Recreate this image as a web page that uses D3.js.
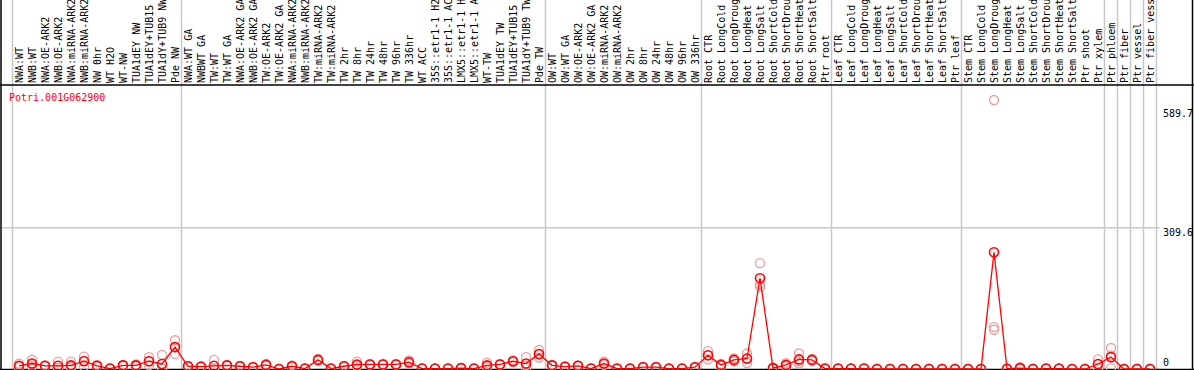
<!DOCTYPE html>
<html>
<head>
<meta charset="utf-8">
<script src="https://cdn.jsdelivr.net/npm/d3@7"></script>
<style>
  body { margin: 0; background: #fff; }
  svg { display: block; }
  text { font-family: "DejaVu Sans Mono", monospace; font-size: 10px; }
</style>
</head>
<body>
<div id="chart"></div>
<script>
const gene = 'Potri.001G062900';

const samples = [
  'NWA:WT', 'NWB:WT', 'NWA:OE-ARK2', 'NWB:OE-ARK2', 'NWA:miRNA-ARK2', 'NWB:miRNA-ARK2',
  'NW 0hr', 'WT H2O', 'WT-NW', 'TUA1dEY NW', 'TUA1dEY+TUB15 NW', 'TUA1dY+TUB9 NW', 'Pde NW',
  'NWA:WT GA', 'NWBWT GA', 'TW:WT', 'TW:WT GA', 'NWA:OE-ARK2 GA', 'NWB:OE-ARK2 GA',
  'TW:OE-ARK2', 'TW:OE-ARK2 GA', 'NWA:miRNA-ARK2 GA', 'NWB:miRNA-ARK2 GA', 'TW:miRNA-ARK2',
  'TW:miRNA-ARK2', 'TW 2hr', 'TW 8hr', 'TW 24hr', 'TW 48hr', 'TW 96hr', 'TW 336hr', 'WT ACC',
  '35S::etr1-1 H2O', '35S::etr1-1 ACC', 'LMX5::etr1-1 H2O', 'LMX5::etr1-1 ACC', 'WT-TW',
  'TUA1dEY TW', 'TUA1dEY+TUB15 TW', 'TUA1dY+TUB9 TW', 'Pde TW',
  'OW:WT', 'OW:WT GA', 'OW:OE-ARK2', 'OW:OE-ARK2 GA', 'OW:miRNA-ARK2', 'OW:miRNA-ARK2',
  'OW 2hr', 'OW 8hr', 'OW 24hr', 'OW 48hr', 'OW 96hr', 'OW 336hr',
  'Root CTR', 'Root LongCold', 'Root LongDrought', 'Root LongHeat', 'Root LongSalt',
  'Root ShortCold', 'Root ShortDrought', 'Root ShortHeat', 'Root ShortSalt', 'Ptr root',
  'Leaf CTR', 'Leaf LongCold', 'Leaf LongDrought', 'Leaf LongHeat', 'Leaf LongSalt',
  'Leaf ShortCold', 'Leaf ShortDrought', 'Leaf ShortHeat', 'Leaf ShortSalt', 'Ptr leaf',
  'Stem CTR', 'Stem LongCold', 'Stem LongDrought', 'Stem LongHeat', 'Stem LongSalt',
  'Stem ShortCold', 'Stem ShortDrought', 'Stem ShortHeat', 'Stem ShortSalt', 'Ptr shoot',
  'Ptr xylem', 'Ptr phloem', 'Ptr fiber', 'Ptr vessel', 'Ptr fiber vessel'
];

// mean expression per sample
const means = [
  7, 12, 7, 7, 8, 17, 7, 1, 8, 8, 17, 11, 48,
  6, 5, 7, 8, 6, 4, 9, 0, 6, 1, 20, 1, 6, 10, 10, 10, 10, 15, 1, 1, 1, 2, 1, 8, 10, 17, 12, 33,
  8, 5, 7, 1, 12, 1, 1, 4, 4, 1, 1, 4,
  30, 9, 20, 23, 199, 2, 9, 21, 20, 1,
  1, 1, 1, 0, 0, 0, 0, 0, 0, 0,
  0, 0, 256, 0.5, 2, 0, 1, 1, 0, 0, 11,
  26, 0, 0, 0
];

// replicate values
const rep1 = [
  12, 20, 8, 16, 16, 27, 9, 1, 9, 10, 26, 31, 63,
  7, 6, 20, 9, 7, 5, 11, 0, 8, 1, 22, 1, 7, 16, 11, 11, 11, 19, 1, 1, 1, 2, 1, 14, 11, 19, 26, 42,
  9, 6, 8, 1, 16, 1, 1, 5, 5, 1, 1, 5,
  39, 11, 23, 34, 232, 3, 13, 34, 22, 1,
  1, 1, 1, 0, 0, 0, 0, 0, 0, 0,
  0, 0, 589.7, 1, 4, 0, 1, 1, 0, 0, 21,
  46, 0, 0, 0
];
const rep2 = [
  5, 10, 7, 3, 5, 18, 7, 1, 8, 8, 17, 1, 48,
  6, 5, 1, 8, 6, 4, 9, 0, 6, 1, 20, 1, 6, 8, 10, 10, 10, 14, 1, 1, 1, 2, 1, 6, 10, 17, 8, 32,
  8, 5, 7, 1, 11, 1, 1, 4, 4, 1, 1, 4,
  30, 9, 20, 22, 186, 2, 8, 17, 20, 1,
  1, 1, 1, 0, 0, 0, 0, 0, 0, 0,
  0, 0, 92, 0, 1, 0, 1, 1, 0, 0, 10,
  30, 0, 0, 0
];
const rep3 = [
  4, 6, 6, 2, 3, 6, 5, 1, 7, 6, 8, 1, 33,
  5, 4, 0, 7, 5, 3, 7, 0, 4, 1, 18, 1, 5, 6, 9, 9, 9, 12, 1, 1, 1, 2, 1, 4, 9, 15, 2, 25,
  7, 4, 6, 1, 9, 1, 1, 3, 3, 1, 1, 3,
  21, 7, 17, 13, 180, 1, 6, 12, 18, 1,
  1, 1, 1, 0, 0, 0, 0, 0, 0, 0,
  0, 0, 86, 0, 1, 0, 1, 1, 0, 0, 2,
  2, 0, 0, 0
];

// group separators: index of the sample that starts a new block
const breaks = [0, 13, 41, 53, 63, 73, 84, 85, 86, 87, 88];
const yTicks = [589.7, 309.6, 0];

const width = 1194, height = 370;
const headerY = 85;

const svg = d3.select('#chart')
  .append('svg')
    .attr('width', width)
    .attr('height', height);

const idx = d3.range(samples.length);

const xScale = d3.scaleBand()
  .domain(idx)
  .range([12.5, 12.5 + 13 * samples.length])
  .padding(0);

const cx = (i) => xScale(i) + xScale.bandwidth() / 2;

const yScale = d3.scaleLinear()
  .domain([0, 589.7])
  .range([369, 100]);

// gray grid
svg.append('line')
  .attr('x1', 1).attr('x2', xScale.range()[1] + 3)
  .attr('y1', yScale(309.6)).attr('y2', yScale(309.6))
  .attr('stroke', '#c8c8c8').attr('stroke-width', 1.5);

svg.selectAll('line.sep')
  .data(breaks)
  .join('line')
    .attr('class', 'sep')
    .attr('x1', (d) => 12.5 + 13 * d)
    .attr('x2', (d) => 12.5 + 13 * d)
    .attr('y1', 0).attr('y2', height)
    .attr('stroke', '#c8c8c8').attr('stroke-width', 1.5);

// frame
svg.append('line')
  .attr('x1', 0).attr('x2', width)
  .attr('y1', headerY).attr('y2', headerY)
  .attr('stroke', '#000').attr('stroke-width', 1.5);
svg.append('line')
  .attr('x1', 0).attr('x2', width)
  .attr('y1', 369.5).attr('y2', 369.5)
  .attr('stroke', '#000').attr('stroke-width', 1.5);
svg.append('line')
  .attr('x1', 1).attr('x2', 1)
  .attr('y1', 0).attr('y2', height)
  .attr('stroke', '#000').attr('stroke-width', 1.5);
svg.append('line')
  .attr('x1', 1192.5).attr('x2', 1192.5)
  .attr('y1', 0).attr('y2', height)
  .attr('stroke', '#000').attr('stroke-width', 1.5);

// sample labels, rotated
svg.selectAll('text.sample')
  .data(idx)
  .join('text')
    .attr('class', 'sample')
    .attr('transform', (i) => `translate(${cx(i) + 4},${headerY - 2}) rotate(-90)`)
    .attr('fill', '#000')
    .text((i) => samples[i]);

// y labels
svg.selectAll('text.ytick')
  .data(yTicks)
  .join('text')
    .attr('class', 'ytick')
    .attr('x', 1163)
    .attr('y', (d) => Math.max(117, Math.min(366, yScale(d) + 8)))
    .attr('fill', '#000')
    .text((d) => d);

svg.append('text')
  .attr('x', 9)
  .attr('y', 101)
  .attr('fill', '#ff0000')
  .text(gene);

// replicates
const reps = [rep1, rep2, rep3];
reps.forEach((rep, k) => {
  svg.append('g')
    .selectAll('circle')
    .data(idx)
    .join('circle')
      .attr('cx', cx)
      .attr('cy', (i) => yScale(rep[i]))
      .attr('r', 4.5)
      .attr('fill', 'none')
      .attr('stroke', '#f09a9a')
      .attr('stroke-width', 1.3);
});

const line = d3.line()
  .x((i) => cx(i))
  .y((i) => yScale(means[i]));

svg.append('path')
  .datum(idx)
  .attr('fill', 'none')
  .attr('stroke', '#ff0000')
  .attr('stroke-width', 1.3)
  .attr('d', line);

svg.append('g')
  .selectAll('circle')
  .data(idx)
  .join('circle')
    .attr('cx', cx)
    .attr('cy', (i) => yScale(means[i]))
    .attr('r', 4.5)
    .attr('fill', 'none')
    .attr('stroke', '#ff0000')
    .attr('stroke-width', 1.6);
</script>
</body>
</html>
